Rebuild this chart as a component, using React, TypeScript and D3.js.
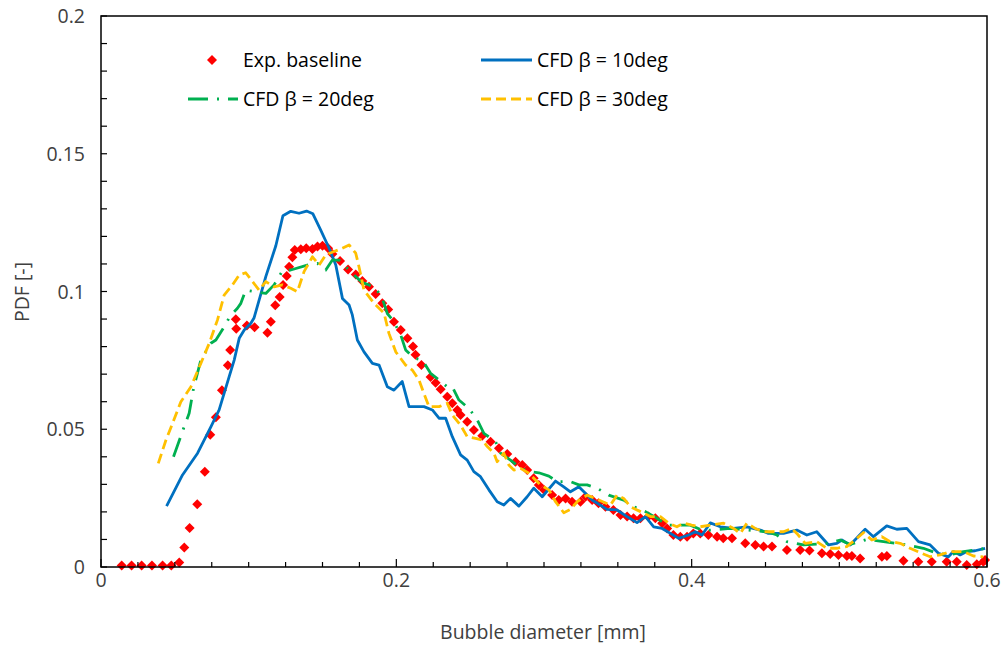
import React from "react";
import * as d3 from "d3";

const xTickLabels = ["0", "0.2", "0.4", "0.6"];
const yTickLabels = ["0", "0.05", "0.1", "0.15", "0.2"];

const expX = [0.014,0.0207,0.0275,0.0345,0.0417,0.0476,0.053,0.0564,0.060,0.0652,0.0703,0.074,0.0778,0.0819,0.0859,0.0875,0.0913,0.0916,0.0988,0.104,0.1127,0.115,0.118,0.121,0.1233,0.1258,0.1274,0.1296,0.1312,0.1353,0.139,0.1432,0.1466,0.15,0.1538,0.1567,0.1619,0.1673,0.1725,0.177,0.1815,0.186,0.1905,0.1945,0.1984,0.203,0.2075,0.2113,0.213,0.217,0.2232,0.2266,0.23,0.2345,0.2379,0.2413,0.2435,0.248,0.2525,0.2582,0.2638,0.2695,0.2751,0.2807,0.2853,0.2886,0.293,0.2965,0.2999,0.3055,0.31,0.3146,0.319,0.3247,0.3281,0.3326,0.3369,0.3416,0.347,0.3518,0.3563,0.3606,0.3653,0.3707,0.3754,0.38,0.3834,0.3876,0.3923,0.3969,0.4011,0.4058,0.4113,0.4172,0.4214,0.4273,0.4363,0.4431,0.4487,0.4544,0.4645,0.4735,0.4798,0.4882,0.4938,0.4994,0.5051,0.5085,0.5141,0.5288,0.5322,0.5434,0.5535,0.5626,0.5727,0.5795,0.5863,0.5931,0.5975,0.5987];
const expY = [0.0005,0.0005,0.0005,0.0005,0.0005,0.0005,0.0016,0.0071,0.0142,0.0228,0.0346,0.048,0.0544,0.0642,0.0732,0.0788,0.0899,0.0865,0.0877,0.087,0.085,0.089,0.095,0.098,0.1024,0.1056,0.109,0.1124,0.1151,0.1153,0.1157,0.1154,0.1163,0.1166,0.1157,0.1136,0.1111,0.108,0.1062,0.1038,0.1017,0.0991,0.0957,0.0935,0.089,0.086,0.083,0.080,0.077,0.0733,0.069,0.0669,0.0645,0.0618,0.0594,0.057,0.0552,0.0527,0.0497,0.0476,0.0455,0.0431,0.041,0.0382,0.037,0.0352,0.0322,0.0298,0.028,0.0261,0.0243,0.0249,0.0237,0.0237,0.0255,0.0243,0.0231,0.0219,0.0207,0.0189,0.0183,0.0177,0.0177,0.0183,0.0177,0.0159,0.014,0.0116,0.011,0.011,0.0122,0.0122,0.0116,0.011,0.0104,0.0104,0.0086,0.008,0.0074,0.0074,0.0062,0.0062,0.006,0.005,0.0047,0.0044,0.004,0.004,0.0031,0.0037,0.004,0.0023,0.0019,0.0019,0.0019,0.0019,0.0007,0.001,0.0019,0.0025];

const cfd10X = [0.0444,0.0552,0.0654,0.0744,0.08,0.0868,0.0902,0.0936,0.097,0.1015,0.1037,0.1116,0.1184,0.1232,0.1285,0.1341,0.1392,0.1435,0.1488,0.1545,0.159,0.1635,0.168,0.1702,0.1736,0.1781,0.1838,0.1883,0.1939,0.1984,0.204,0.2086,0.2187,0.2244,0.2289,0.2334,0.2379,0.2435,0.248,0.2525,0.257,0.2627,0.2683,0.2728,0.2773,0.283,0.2886,0.2931,0.2988,0.3078,0.3134,0.3179,0.3236,0.3326,0.3427,0.3495,0.3562,0.363,0.3687,0.3743,0.38,0.3856,0.3912,0.398,0.4025,0.407,0.4126,0.4194,0.4284,0.4374,0.4465,0.452,0.4622,0.4712,0.478,0.4847,0.4927,0.4983,0.5017,0.5073,0.5175,0.5231,0.5321,0.5389,0.5457,0.5536,0.5615,0.5671,0.5739,0.5772,0.5818,0.5863,0.5919,0.5987];
const cfd10Y = [0.0221,0.0334,0.0413,0.0509,0.057,0.0691,0.0751,0.083,0.086,0.0885,0.0905,0.1054,0.1166,0.1275,0.1291,0.1284,0.1292,0.1282,0.1223,0.1157,0.1096,0.0975,0.0951,0.0915,0.0824,0.0781,0.0739,0.0733,0.0654,0.0642,0.0673,0.0582,0.0582,0.057,0.054,0.054,0.0473,0.0407,0.0388,0.0346,0.0328,0.028,0.0237,0.0225,0.0249,0.0221,0.0255,0.0286,0.0255,0.0312,0.0291,0.0273,0.0291,0.0243,0.0209,0.0207,0.0183,0.0161,0.0183,0.0146,0.014,0.0122,0.0104,0.0116,0.0128,0.0116,0.016,0.0146,0.014,0.0146,0.0134,0.0122,0.0122,0.0134,0.0116,0.0128,0.008,0.0086,0.0098,0.008,0.0137,0.011,0.0149,0.0137,0.014,0.0092,0.008,0.005,0.0037,0.0056,0.0044,0.0056,0.0059,0.0068];

const cfd20X = [0.0491,0.0559,0.0597,0.0627,0.0676,0.0744,0.0778,0.0834,0.0875,0.0924,0.0947,0.098,0.1116,0.1172,0.1229,0.1285,0.1397,0.1466,0.1522,0.1567,0.1612,0.1668,0.1725,0.177,0.1815,0.186,0.1905,0.1939,0.1984,0.203,0.2063,0.212,0.2176,0.2232,0.2289,0.2345,0.2379,0.2424,0.2491,0.2548,0.2593,0.2672,0.2706,0.2773,0.2841,0.2909,0.2965,0.3033,0.3089,0.3179,0.3236,0.3292,0.336,0.3438,0.354,0.3607,0.3687,0.3765,0.3833,0.3922,0.399,0.407,0.4126,0.4261,0.4385,0.451,0.4577,0.4645,0.4757,0.4927,0.5006,0.5073,0.5186,0.5299,0.5457,0.5569,0.566,0.575,0.584,0.593,0.5987];
const cfd20Y = [0.04,0.0503,0.0558,0.0649,0.0751,0.0812,0.0824,0.0872,0.0911,0.0939,0.0957,0.1005,0.0993,0.1024,0.1075,0.1078,0.1096,0.1102,0.1078,0.1114,0.1114,0.1084,0.1054,0.1032,0.1024,0.1012,0.0975,0.092,0.089,0.0842,0.0788,0.0758,0.0751,0.0703,0.0679,0.0654,0.0654,0.0606,0.0576,0.0534,0.0485,0.0455,0.0413,0.0388,0.0358,0.0346,0.0342,0.033,0.031,0.031,0.0298,0.0298,0.0286,0.0261,0.0243,0.0219,0.0201,0.0177,0.0152,0.0152,0.0152,0.0134,0.0134,0.014,0.0134,0.0128,0.0116,0.0092,0.008,0.0086,0.0098,0.0082,0.01,0.0092,0.008,0.0068,0.005,0.0044,0.0056,0.0062,0.0068];

const cfd30X = [0.0388,0.044,0.0485,0.0541,0.0609,0.0676,0.0733,0.0789,0.0834,0.0891,0.0936,0.098,0.1026,0.1071,0.1116,0.1172,0.1229,0.1285,0.133,0.1375,0.1432,0.1477,0.1522,0.1578,0.1634,0.168,0.1725,0.1747,0.1781,0.1849,0.1917,0.195,0.1996,0.2063,0.2108,0.2153,0.2187,0.2221,0.2289,0.2345,0.2379,0.2435,0.248,0.2537,0.2582,0.2616,0.2661,0.2683,0.2728,0.2762,0.2796,0.2841,0.2898,0.2976,0.3033,0.3078,0.3134,0.3179,0.3225,0.3292,0.3371,0.345,0.3495,0.354,0.3585,0.3653,0.3721,0.3788,0.3844,0.39,0.3946,0.4,0.4058,0.4126,0.4216,0.4284,0.4329,0.4374,0.443,0.4487,0.4555,0.4622,0.4678,0.4712,0.4769,0.4847,0.4915,0.4983,0.505,0.5107,0.5164,0.522,0.5288,0.5344,0.5412,0.5479,0.5547,0.5615,0.5682,0.575,0.584,0.5908,0.5975];
const cfd30Y = [0.0376,0.0461,0.0522,0.06,0.0654,0.0739,0.0812,0.0897,0.0987,0.1024,0.106,0.1068,0.1036,0.1005,0.1036,0.1017,0.1024,0.1012,0.0999,0.1072,0.1126,0.1096,0.1133,0.1145,0.1157,0.1169,0.1139,0.109,0.1005,0.0957,0.0921,0.0848,0.0781,0.0733,0.0715,0.0679,0.063,0.0582,0.0582,0.0594,0.0552,0.0515,0.0473,0.0467,0.0461,0.0437,0.0413,0.0382,0.0413,0.037,0.0352,0.0358,0.034,0.0298,0.028,0.0237,0.0197,0.0209,0.0237,0.0261,0.0243,0.0225,0.0261,0.0249,0.0219,0.0201,0.0183,0.0183,0.0159,0.0146,0.0159,0.0152,0.0146,0.0152,0.0159,0.014,0.0122,0.0159,0.014,0.0128,0.0128,0.0128,0.014,0.0122,0.0086,0.0092,0.0068,0.0068,0.0074,0.0098,0.0125,0.0098,0.011,0.0092,0.0086,0.0068,0.0052,0.0037,0.0044,0.0056,0.0056,0.004,0.0037];

const seriesNames = ["Exp. baseline", "CFD β = 10deg", "CFD β = 20deg", "CFD β = 30deg"];
const colors = ["#FF0000", "#0070C0", "#00B050", "#FFC000"];

const W = 1006, H = 646;
const m = { left: 101, right: 987, top: 16, bottom: 567 };
const FONT = "'Open Sans', sans-serif";
const FS = 19.5;

export default function App() {
  const x = d3.scaleLinear().domain([0, 0.6]).range([m.left, m.right]);
  const y = d3.scaleLinear().domain([0, 0.2]).range([m.bottom, m.top]);
  const line = d3.line<[number, number]>().x(d => x(d[0])).y(d => y(d[1]));
  const zip = (a: number[], b: number[]) => a.map((v, i) => [v, b[i]] as [number, number]);

  const xMinor = d3.range(0, 0.6001, 0.025);
  const yMinor = d3.range(0, 0.2001, 0.01);
  const diamond = "M0,-5L5,0L0,5L-5,0Z";

  const lines = [
    { xs: cfd10X, ys: cfd10Y, color: colors[1], dash: undefined },
    { xs: cfd20X, ys: cfd20Y, color: colors[2], dash: "20,9,2,9" },
    { xs: cfd30X, ys: cfd30Y, color: colors[3], dash: "10,5" },
  ];

  return (
    <svg width={W} height={H} style={{ position: "absolute", left: 0, top: 0, background: "#fff" }}>
      <rect x={0} y={0} width={W} height={H} fill="#fff" />
      <g>
        {expX.map((v, i) => (
          <path key={i} d={diamond} transform={`translate(${x(v)},${y(expY[i])})`} fill={colors[0]} />
        ))}
      </g>
      {lines.map((s, i) => (
        <path key={i} d={line(zip(s.xs, s.ys)) || ""} fill="none" stroke={s.color}
          strokeWidth={2.8} strokeDasharray={s.dash} strokeLinejoin="round" />
      ))}
      <rect x={m.left} y={m.top} width={m.right - m.left} height={m.bottom - m.top} fill="none" stroke="#000" strokeWidth={1.5} />
      {xMinor.map((v, i) => {
        const major = i % 8 === 0;
        return <line key={i} x1={x(v)} x2={x(v)} y1={m.bottom} y2={m.bottom - (major ? 8 : 5)} stroke="#000" strokeWidth={1.2} />;
      })}
      {yMinor.map((v, i) => (
        <line key={i} x1={m.left} x2={m.left + 6} y1={y(v)} y2={y(v)} stroke="#000" strokeWidth={1.2} />
      ))}
      {xTickLabels.map((t, i) => (
        <text key={i} x={x(+t)} y={m.bottom + 20} textAnchor="middle" fontFamily={FONT} fontSize={FS} fill="#404040">{t}</text>
      ))}
      {yTickLabels.map((t, i) => (
        <text key={i} x={85} y={y(+t) + 7} textAnchor="end" fontFamily={FONT} fontSize={FS} fill="#404040">{t}</text>
      ))}
      <text x={543} y={639} textAnchor="middle" fontFamily={FONT} fontSize={FS} fill="#404040">Bubble diameter [mm]</text>
      <text transform="translate(29,292) rotate(-90)" textAnchor="middle" fontFamily={FONT} fontSize={FS} fill="#404040">PDF [-]</text>
      <g fontFamily={FONT} fontSize={FS} fill="#000">
        <path d={diamond} transform="translate(212,60)" fill={colors[0]} />
        <text x={243} y={67}>{seriesNames[0]}</text>
        <line x1={481} x2={532} y1={60} y2={60} stroke={colors[1]} strokeWidth={2.8} />
        <text x={537} y={67}>{seriesNames[1]}</text>
        <line x1={188} x2={238} y1={99} y2={99} stroke={colors[2]} strokeWidth={2.8} strokeDasharray="20,9,2,9" />
        <text x={243} y={106}>{seriesNames[2]}</text>
        <line x1={481} x2={532} y1={99} y2={99} stroke={colors[3]} strokeWidth={2.8} strokeDasharray="10,5" />
        <text x={537} y={106}>{seriesNames[3]}</text>
      </g>
    </svg>
  );
}
